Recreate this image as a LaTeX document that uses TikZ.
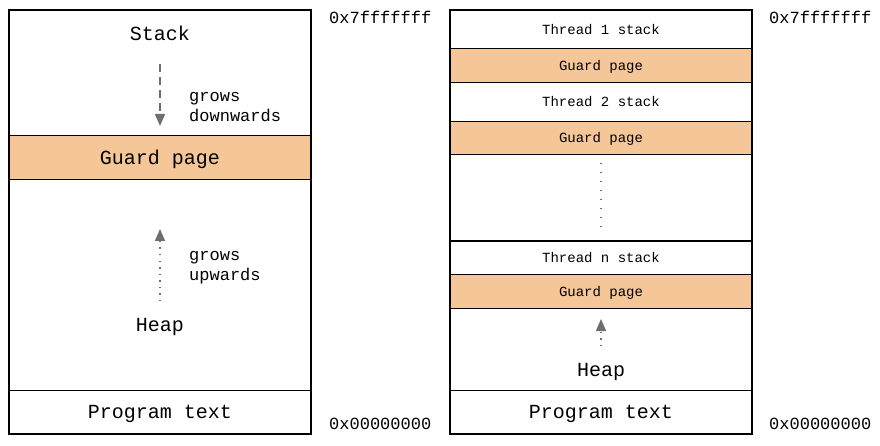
\documentclass[tikz,border=0pt]{standalone}
\usepackage{fontspec}
\setmainfont{Liberation Mono}
\usepackage{tikz}
\usetikzlibrary{arrows.meta}
\definecolor{guardc}{RGB}{245,198,152}
\definecolor{arrowc}{RGB}{110,110,110}
\tikzstyle{seg}=[draw, line width=0.8pt, minimum width=302pt, inner sep=0, outer sep=0, text depth=0pt]
\tikzstyle{guard}=[seg, fill=guardc]
\tikzstyle{frame}=[draw, line width=1.6pt, minimum width=302pt, minimum height=424pt, inner sep=0]
\tikzstyle{big}=[font=\fontsize{20}{22}\selectfont]
\tikzstyle{small}=[font=\fontsize{14}{16}\selectfont]
\tikzstyle{note}=[font=\fontsize{17}{20}\selectfont, align=left, anchor=west, inner sep=0]
\tikzstyle{growarrow}=[arrowc, line width=1.5pt, -{Triangle[length=12pt, width=10pt]}]

\begin{document}
\begin{tikzpicture}[x=1pt, y=-1pt]
  \useasboundingbox (0,0) rectangle (880,446);
  \node[seg, minimum height=125pt] (stackL) at (160,72.5) {};
  \node[guard, big, minimum height=44pt] (guardL) at (160,157) {Guard page};
  \node[seg, minimum height=211pt] (heapL) at (160,284.5) {};
  \node[seg, big, minimum height=44pt] (progL) at (160,412) {Program text};
  \node[frame] (boxL) at (160,222) {};
  \node[big] (stack) at (160,33) {Stack};
  \node[big, text depth=0pt] (heap) at (160,325) {Heap};
  \node[note] (down) at (189,107) {grows\\downwards};
  \node[note] (up) at (189,268) {grows\\upwards};
  \coordinate (sd1) at (160,64);
  \coordinate (sd2) at (160,126);
  \coordinate (hu1) at (160,301);
  \coordinate (hu2) at (160,229);
  \draw[growarrow, dash pattern=on 8pt off 5pt] (sd1) -- (sd2);
  \draw[growarrow, dash pattern=on 1.5pt off 5pt] (hu1) -- (hu2);
  \node[note] (topL) at (329,17) {0x7fffffff};
  \node[note] (botL) at (329,424) {0x00000000};

  \node[seg, small, minimum height=38pt] (t1) at (601,29) {Thread 1 stack};
  \node[guard, small, minimum height=34pt] (g1) at (601,65) {Guard page};
  \node[seg, small, minimum height=39pt] (t2) at (601,101.5) {Thread 2 stack};
  \node[guard, small, minimum height=33pt] (g2) at (601,137.5) {Guard page};
  \node[seg, minimum height=87pt] (gap) at (601,197.5) {};
  \node[seg, small, minimum height=33pt] (tn) at (601,257.5) {Thread n stack};
  \node[guard, small, minimum height=34pt] (gn) at (601,291) {Guard page};
  \node[seg, minimum height=82pt] (heapR) at (601,349) {};
  \node[seg, big, minimum height=44pt] (progR) at (601,412) {Program text};
  \node[frame] (boxR) at (601,222) {};
  \draw[line width=1.6pt] (gap.south west) -- (gap.south east);
  \node[big, text depth=0pt] (heap2) at (601,370) {Heap};
  \coordinate (dd1) at (601,163);
  \coordinate (dd2) at (601,233);
  \coordinate (hr1) at (601,346);
  \coordinate (hr2) at (601,319);
  \draw[arrowc, line width=1.5pt, dash pattern=on 1.5pt off 7.5pt] (dd1) -- (dd2);
  \draw[growarrow, dash pattern=on 1.5pt off 5pt] (hr1) -- (hr2);
  \node[note] (topR) at (769,17) {0x7fffffff};
  \node[note] (botR) at (769,424) {0x00000000};
\end{tikzpicture}
\end{document}
